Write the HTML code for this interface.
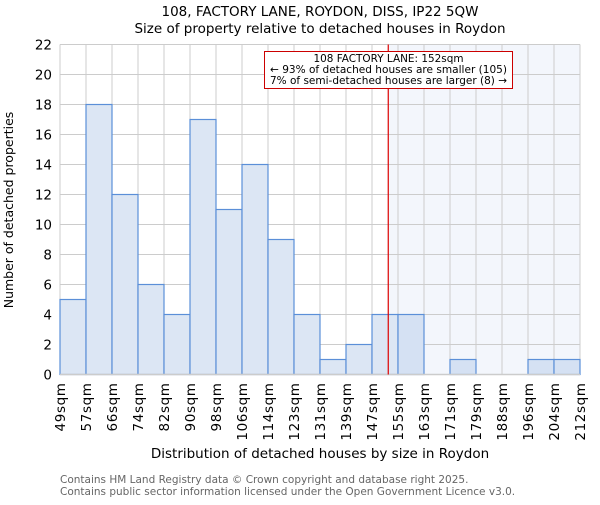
<!DOCTYPE html>
<html><head><meta charset="utf-8"><style>
body{margin:0;background:#fff;}
svg text{font-family:"DejaVu Sans","Liberation Sans",sans-serif;}
</style></head><body>
<svg id="chart" width="600" height="500" xmlns="http://www.w3.org/2000/svg">
<text x="320" y="16" text-anchor="middle" font-size="13.5" fill="#000">108, FACTORY LANE, ROYDON, DISS, IP22 5QW</text>
<text x="320" y="33" text-anchor="middle" font-size="13.5" fill="#000">Size of property relative to detached houses in Roydon</text>
<g id="plot"></g>
<text x="320" y="458" text-anchor="middle" font-size="13.5" fill="#000">Distribution of detached houses by size in Roydon</text>
<text transform="translate(13,210) rotate(-90)" text-anchor="middle" font-size="12.5" fill="#000">Number of detached properties</text>
<text x="60" y="483" font-size="10.5" fill="#666">Contains HM Land Registry data © Crown copyright and database right 2025.</text>
<text x="60" y="495" font-size="10.5" fill="#666">Contains public sector information licensed under the Open Government Licence v3.0.</text>
</svg>
<script>
const binLabels=["49sqm","57sqm","66sqm","74sqm","82sqm","90sqm","98sqm","106sqm","114sqm","123sqm","131sqm","139sqm","147sqm","155sqm","163sqm","171sqm","179sqm","188sqm","196sqm","204sqm","212sqm"];
const binEdges=[49,57,66,74,82,90,98,106,114,123,131,139,147,155,163,171,179,188,196,204,212];
const counts=[5,18,12,6,4,17,11,14,9,4,1,2,4,4,0,1,0,0,1,1];
const yTicks=[0,2,4,6,8,10,12,14,16,18,20,22];
const propertySize=152;
const L=60,R=580,T=44.5,B=374.5,yMax=22;
const n=counts.length,bw=(R-L)/n;
const xi=i=>L+i*bw;
function xv(v){let i=0;while(i<binEdges.length-2&&v>binEdges[i+1])i++;return xi(i)+(v-binEdges[i])/(binEdges[i+1]-binEdges[i])*bw;}
const y=v=>B-(v/yMax)*(B-T);
const g=document.getElementById('plot');const NS="http://www.w3.org/2000/svg";
function mk(t,a){const e=document.createElementNS(NS,t);for(const k in a)e.setAttribute(k,a[k]);g.appendChild(e);return e;}
const px=xv(propertySize);
let sh=mk('rect',{x:px,y:T,width:R-px,height:B-T,fill:'#f3f6fc'});


yTicks.forEach(t=>{let l=mk('line',{x1:L,x2:R,y1:y(t),y2:y(t),stroke:'#ccc','stroke-width':1});


let tx=mk('text',{x:L-8,y:y(t)+5,'text-anchor':'end','font-size':'13.5',fill:'#000'});tx.textContent=t;

});
for(let i=0;i<=n;i++){let l=mk('line',{x1:xi(i),x2:xi(i),y1:T,y2:B,stroke:'#ccc','stroke-width':1});

}
counts.forEach((c,i)=>{if(c<=0)return;const inR=xi(i)>=px-1;
let r=mk('rect',{x:xi(i),y:y(c),width:bw,height:B-y(c),fill:inR?'#d5e1f3':'#dce6f4',stroke:'#5b8fd8','stroke-width':1.2});

});
binLabels.forEach((lb,i)=>{let tx=mk('text',{transform:`translate(${xi(i)+5},${B+8}) rotate(-90)`,'text-anchor':'end','font-size':'13.5','letter-spacing':'0.6',fill:'#000'});tx.textContent=lb;

});
let ax=mk('line',{x1:L,x2:R,y1:B,y2:B,stroke:'#ccc','stroke-width':1.5});


let rl=mk('line',{x1:px,x2:px,y1:T,y2:B,stroke:'#d00','stroke-width':1.2});


let bx=mk('rect',{x:264.5,y:51.5,width:248,height:37,fill:'#fff',stroke:'#c00','stroke-width':1});


const annW=[150,237,237];
["108 FACTORY LANE: 152sqm","← 93% of detached houses are smaller (105)","7% of semi-detached houses are larger (8) →"].forEach((s,k)=>{let tx=mk('text',{x:388.5,y:62+k*11,'text-anchor':'middle','font-size':'10.5',textLength:annW[k],lengthAdjust:'spacingAndGlyphs',fill:'#000'});tx.textContent=s;

});
</script>
</body></html>
